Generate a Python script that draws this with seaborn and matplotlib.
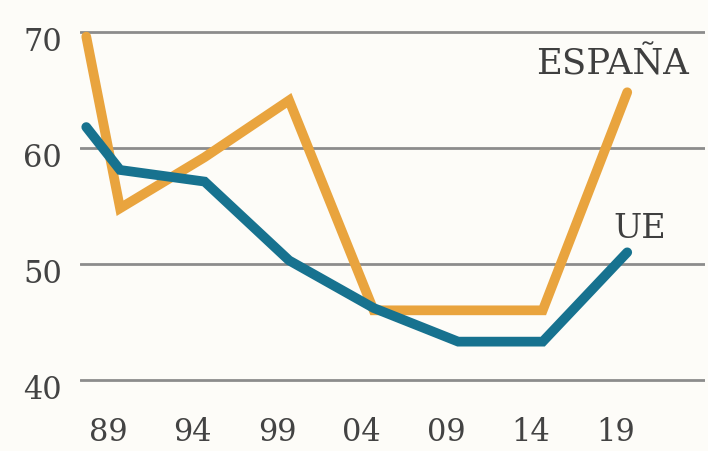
import matplotlib
matplotlib.use("Agg")
import matplotlib.pyplot as plt
import matplotlib.transforms as mtransforms
import seaborn as sns
import pandas as pd

# ---- data ----
years = [1987, 1989, 1994, 1999, 2004, 2009, 2014, 2019]
espana = [69.6, 54.8, 59.2, 64.1, 46.0, 46.0, 46.0, 64.8]
ue = [61.8, 58.1, 57.1, 50.3, 46.2, 43.3, 43.3, 51.0]
tick_years = [1989, 1994, 1999, 2004, 2009, 2014, 2019]
tick_labels = ["89", "94", "99", "04", "09", "14", "19"]
y_ticks = [40, 50, 60, 70]

df = pd.DataFrame({
    "year": years * 2,
    "value": espana + ue,
    "serie": ["ESPAÑA"] * len(years) + ["UE"] * len(years),
})

sns.set_style("white")
plt.rcParams["font.family"] = ["DejaVu Serif", "DejaVu Sans"]

bg = "#FDFCF8"
orange = "#E9A43E"
blue = "#17728F"

fig = plt.figure(figsize=(7.08, 4.51), dpi=100, facecolor=bg)
ax = fig.add_axes([80 / 708, (451 - 395) / 451, 625 / 708, 375 / 451])
ax.set_facecolor(bg)

sns.lineplot(data=df, x="year", y="value", hue="serie",
             palette={"ESPAÑA": orange, "UE": blue},
             hue_order=["ESPAÑA", "UE"],
             linewidth=7.0, legend=False, ax=ax,
             solid_capstyle="round", solid_joinstyle="miter")

ax.set_xlim(1986.63, 2023.6)
ax.set_ylim(38.7, 71.03)

ax.set_yticks(y_ticks)
ax.set_yticklabels([str(v) for v in y_ticks])
ax.set_xticks(tick_years)
ax.set_xticklabels(tick_labels)
ax.grid(False)
for v in y_ticks:
    ax.axhline(v, color="#8c8c8c", lw=2.0, zorder=0)

for s in ax.spines.values():
    s.set_visible(False)
ax.tick_params(axis="both", length=0, labelsize=22, labelcolor="#434343")
ax.tick_params(axis="y", pad=13)
ax.tick_params(axis="x", pad=16)

dx = mtransforms.ScaledTranslation(-12 / 100, 0, fig.dpi_scale_trans)
for lab in ax.get_xticklabels():
    lab.set_transform(lab.get_transform() + dx)
dy = mtransforms.ScaledTranslation(0, -7 / 100, fig.dpi_scale_trans)
for lab in ax.get_yticklabels():
    lab.set_transform(lab.get_transform() + dy)

ax.set_xlabel("")
ax.set_ylabel("")

ax.text(2013.6, 66.3, "ESPAÑA", fontsize=25.5, color="#3f3f3f", ha="left", va="baseline")
ax.text(2018.2, 52.2, "UE", fontsize=24, color="#3f3f3f", ha="left", va="baseline")

fig.savefig("out.png", dpi=100, facecolor=bg)
